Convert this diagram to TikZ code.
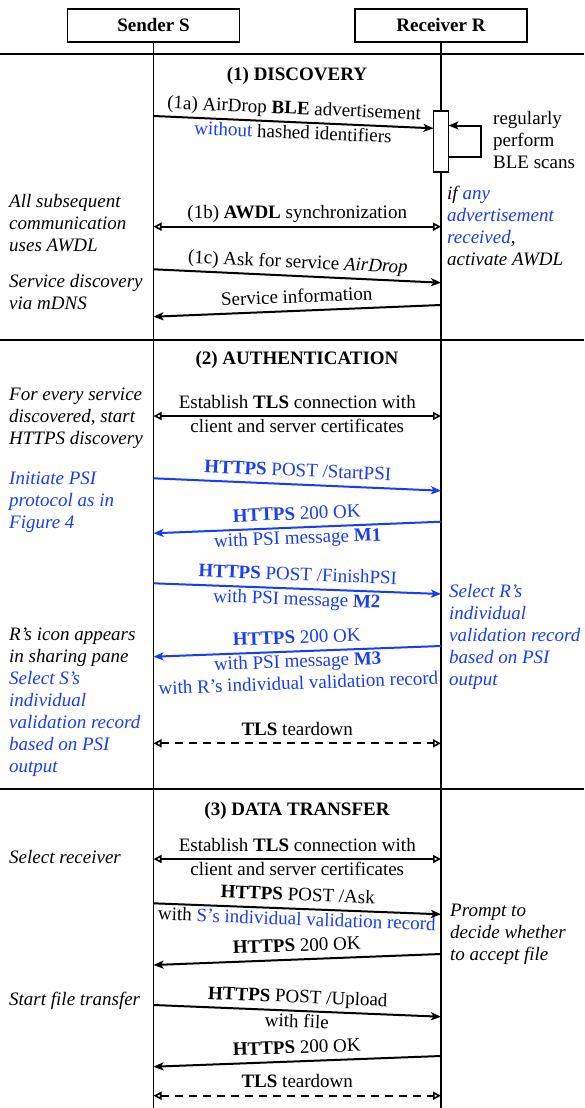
\documentclass[tikz,border=0pt]{standalone}
\usepackage{fontspec}
\setmainfont{Liberation Serif}
\usetikzlibrary{arrows.meta}
\definecolor{myblue}{RGB}{25,60,250}
\begin{document}
\begin{tikzpicture}[x=1pt,y=-1pt,
  every node/.style={font=\fontsize{19}{22}\selectfont, inner sep=0pt},
  lbl/.style={sloped, text height=13pt, text depth=5pt},
  msg/.style={line width=2pt, -{Stealth[length=10pt,width=8pt,inset=2.5pt]}},
  msgl/.style={line width=2pt, {Stealth[length=10pt,width=8pt,inset=2.5pt]}-},
  dbl/.style={line width=2pt, {Triangle[open,length=8pt,width=8pt,line width=1.6pt]}-{Triangle[open,length=8pt,width=8pt,line width=1.6pt]}},
  dbld/.style={dbl, dash pattern=on 8pt off 6pt},
  head/.style={draw, line width=1.2pt, minimum width=172pt, minimum height=33pt, font=\fontsize{19}{22}\selectfont\bfseries},
  title/.style={anchor=base, font=\fontsize{19}{22}\selectfont\bfseries},
  note/.style={anchor=north west, align=left, font=\fontsize{19}{22}\selectfont\itshape},
  rule/.style={line width=2.4pt},
  life/.style={line width=1.3pt}
]
\useasboundingbox (0,0) rectangle (584,1108);

% headers and lifelines
\node[head] (S) at (153.5,25.5) {Sender S};
\node[head] (R) at (441,25.5) {Receiver R};
\coordinate (Sbot) at (153.5,1108);
\coordinate (Rbot) at (441,1108);
\draw[life] (S.south) -- (Sbot);
\draw[life] (R.south) -- (Rbot);

% section rules
\draw[rule] (0,54) -- (584,54);
\draw[rule] (0,340) -- (584,340);
\draw[rule] (0,789) -- (584,789);

% titles
\node[title] (t1) at (297,80.3) {(1) DISCOVERY};
\node[title] (t2) at (297,364.6) {(2) AUTHENTICATION};
\node[title] (t3) at (297,815.3) {(3) DATA TRANSFER};

% ---------- (1) discovery
\node[draw, line width=1.6pt, fill=white, minimum width=15pt, minimum height=61pt] (act) at (441,141.5) {};
\coordinate (a1s) at (153.5,116);
\coordinate (a1e) at (433.5,128.3);
\draw[msg] (a1s) -- node[lbl,above=2pt] {(1a) AirDrop \textbf{BLE} advertisement}
  node[lbl,below=2.5pt] {\textcolor{myblue}{without} hashed identifiers} (a1e);
\coordinate (lpa) at (448.5,157);
\coordinate (lpb) at (481,157);
\coordinate (lpc) at (481,125.5);
\coordinate (lpd) at (448.5,125.5);
\draw[msg] (lpa) -- (lpb) -- (lpc) -- (lpd);
\node[anchor=north west, align=left] (scan) at (493,108.9) {\strut regularly\\perform\\BLE scans};

\node[note] (n1) at (9,192.1) {\strut All subsequent\\communication\\uses AWDL};
\node[note] (n2) at (9,272.2) {\strut Service discovery\\via mDNS};
\node[note] (r1) at (447,183.9) {\strut if \textcolor{myblue}{any}\\\textcolor{myblue}{advertisement}\\\textcolor{myblue}{received},\\activate AWDL};

\coordinate (b1s) at (153.5,226.7);
\coordinate (b1e) at (441,226.7);
\draw[dbl] (b1s) -- node[lbl,above=2pt] {(1b) \textbf{AWDL} synchronization} (b1e);

\coordinate (c1s) at (153.5,269.3);
\coordinate (c1e) at (441,282.7);
\draw[msg] (c1s) -- node[lbl,above=2pt] {(1c) Ask for service \textit{AirDrop}} (c1e);

\coordinate (d1s) at (153.5,316.7);
\coordinate (d1e) at (441,305);
\draw[msgl] (d1s) -- node[lbl,above=2pt] {Service information} (d1e);

% ---------- (2) authentication
\node[note] (n3) at (9,384.6) {\strut For every service\\discovered, start\\HTTPS discovery};
\node[note, text=myblue] (n4) at (9,468.9) {\strut Initiate PSI\\protocol as in\\Figure 4};
\node[note] (n5) at (9,624.9) {\strut R's icon appears\\in sharing pane\\\color{myblue}Select S's\\\color{myblue}individual\\\color{myblue}validation record\\\color{myblue}based on PSI\\\color{myblue}output};
\node[note, text=myblue] (r2) at (449,582.2) {\strut Select R's\\individual\\validation record\\based on PSI\\output};

\coordinate (e2s) at (153.5,416);
\coordinate (e2e) at (441,416);
\draw[dbl] (e2s) -- node[lbl,above=2pt] {Establish \textbf{TLS} connection with}
  node[lbl,below=2pt] {client and server certificates} (e2e);

\coordinate (f2s) at (153.5,478.3);
\coordinate (f2e) at (441,490.7);
\draw[msg, myblue] (f2s) -- node[lbl,above=2pt] {\textbf{HTTPS} POST /StartPSI} (f2e);

\coordinate (g2s) at (153.5,533.3);
\coordinate (g2e) at (441,521.7);
\draw[msgl, myblue] (g2s) -- node[lbl,above=2pt] {\textbf{HTTPS} 200 OK}
  node[lbl,below=2.5pt] {with PSI message \textbf{M1}} (g2e);

\coordinate (h2s) at (153.5,583.3);
\coordinate (h2e) at (441,594);
\draw[msg, myblue] (h2s) -- node[lbl,above=2pt] {\textbf{HTTPS} POST /FinishPSI}
  node[lbl,below=2.5pt] {with PSI message \textbf{M2}} (h2e);

\coordinate (i2s) at (153.5,656.7);
\coordinate (i2e) at (441,646);
\draw[msgl, myblue] (i2s) -- node[lbl,above=2pt] {\textbf{HTTPS} 200 OK}
  node[lbl,below=2pt] {with PSI message \textbf{M3}}
  node[lbl,below=24pt] {with R's individual validation record} (i2e);

\coordinate (j2s) at (153.5,743.3);
\coordinate (j2e) at (441,743.3);
\draw[dbld] (j2s) -- node[lbl,above=2pt] {\textbf{TLS} teardown} (j2e);

% ---------- (3) data transfer
\node[note] (n6) at (9,847.9) {\strut Select receiver};
\node[note] (n7) at (9,989.6) {\strut Start file transfer};
\node[note] (r3) at (450,901.2) {\strut Prompt to\\decide whether\\to accept file};

\coordinate (k3s) at (153.5,859);
\coordinate (k3e) at (441,859);
\draw[dbl] (k3s) -- node[lbl,above=2pt] {Establish \textbf{TLS} connection with}
  node[lbl,below=2pt] {client and server certificates} (k3e);

\coordinate (l3s) at (153.5,903.3);
\coordinate (l3e) at (441,914.3);
\draw[msg] (l3s) -- node[lbl,above=2pt] {\textbf{HTTPS} POST /Ask}
  node[lbl,below=2.5pt] {with \textcolor{myblue}{S's individual validation record}} (l3e);

\coordinate (m3s) at (153.5,965);
\coordinate (m3e) at (441,954);
\draw[msgl] (m3s) -- node[lbl,above=2pt] {\textbf{HTTPS} 200 OK} (m3e);

\coordinate (o3s) at (153.5,1005);
\coordinate (o3e) at (441,1016.7);
\draw[msg] (o3s) -- node[lbl,above=2pt] {\textbf{HTTPS} POST /Upload}
  node[lbl,below=2.5pt] {with file} (o3e);

\coordinate (p3s) at (153.5,1066.7);
\coordinate (p3e) at (441,1056);
\draw[msgl] (p3s) -- node[lbl,above=2pt] {\textbf{HTTPS} 200 OK} (p3e);

\coordinate (q3s) at (153.5,1095.7);
\coordinate (q3e) at (441,1095.7);
\draw[dbld] (q3s) -- node[lbl,above=2pt] {\textbf{TLS} teardown} (q3e);
\end{tikzpicture}
\end{document}
